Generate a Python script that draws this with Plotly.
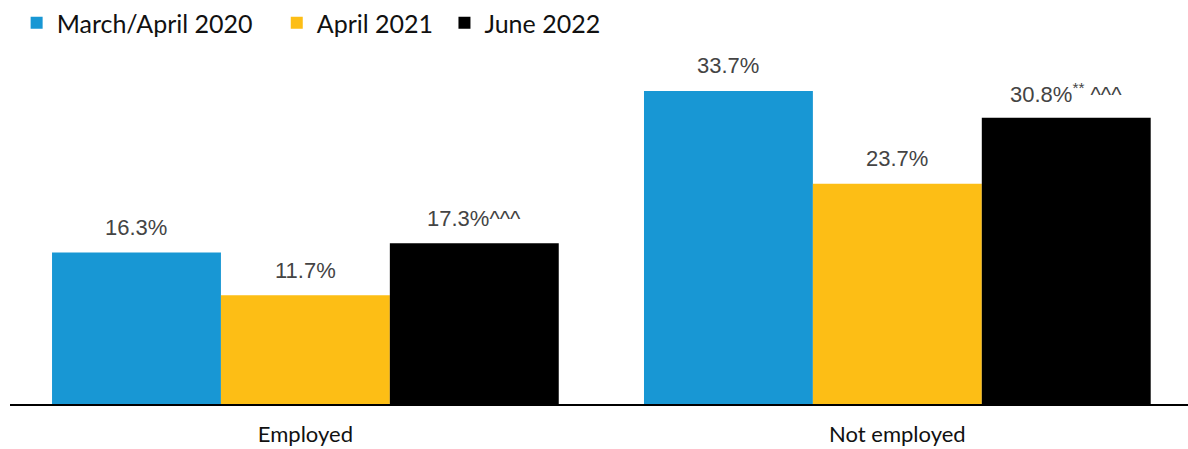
import plotly.graph_objects as go

categories = ["Employed", "Not employed"]
series_names = ["March/April 2020", "April 2021", "June 2022"]
series_values = [
    [16.3, 33.7],
    [11.7, 23.7],
    [17.3, 30.8],
]
series_labels = [
    ["16.3%", "33.7%"],
    ["11.7%", "23.7%"],
    ["17.3%^^^", "30.8%<sup>**</sup> ^^^"],
]
colors = ["#1897D4", "#FDBE15", "#000000"]

bargap = 0.144
n = len(series_names)
w = (1 - bargap) / n
pads = ["\u00a0" * 3, "\u00a0", ""]

fig = go.Figure()
annotations = []
for i, (name, vals, labs, col) in enumerate(zip(series_names, series_values, series_labels, colors)):
    fig.add_trace(go.Bar(
        name=name + pads[i], x=categories, y=vals,
        marker=dict(color=col, line=dict(width=0)),
        hoverinfo="skip",
    ))
    for j, (v, lab) in enumerate(zip(vals, labs)):
        annotations.append(dict(
            x=j + (i - (n - 1) / 2) * w, y=v, xref="x", yref="y",
            text=lab, showarrow=False, yanchor="middle", yshift=25,
            font=dict(family="Liberation Sans, Arial", size=22, color="#444444"),
        ))

fig.update_layout(
    width=1188, height=449,
    margin=dict(l=10, r=0, t=50, b=45),
    paper_bgcolor="white", plot_bgcolor="white",
    barmode="group", bargap=bargap, bargroupgap=0,
    showlegend=True,
    legend=dict(
        orientation="h", xref="container", yref="container", x=0.014, y=1.0,
        xanchor="left", yanchor="top",
        font=dict(family="Lato", size=25, color="#111111"),
        itemsizing="constant", tracegroupgap=0,
    ),
    xaxis=dict(
        range=[-0.499, 1.491], showline=True, linecolor="black", linewidth=2,
        ticks="", showgrid=False, zeroline=False, ticklabelstandoff=10,
        tickfont=dict(family="Lato", size=22, color="#111111"),
    ),
    yaxis=dict(range=[0, 38.1], visible=False, showgrid=False, zeroline=False),
    annotations=annotations,
)

fig.write_html("out.html")
